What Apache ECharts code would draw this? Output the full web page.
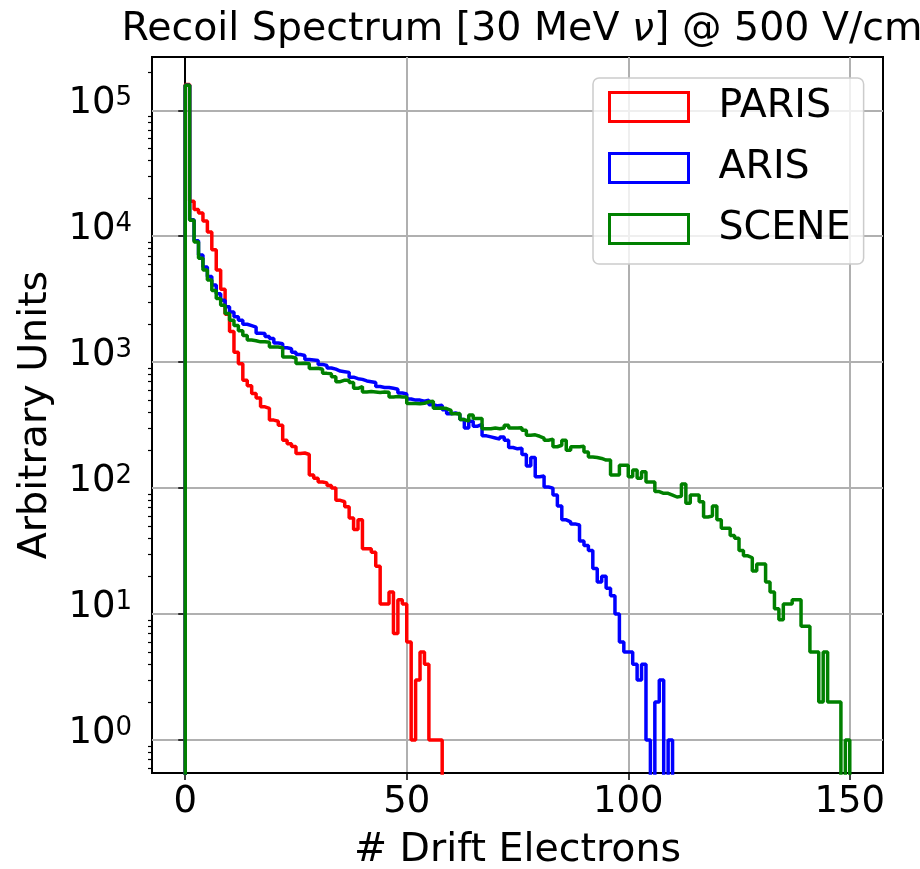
<!DOCTYPE html>
<html>
<head>
<meta charset="utf-8">
<script src="https://cdn.jsdelivr.net/npm/echarts@6/dist/echarts.min.js"></script>
<style>
  html, body { margin: 0; padding: 0; background: #fff; }
  #main { width: 920px; height: 869px; }
</style>
</head>
<body>
<div id="main"></div>
<script>
// histogram counts, one value per 1-electron bin (0..149)
var parisCounts = [
  160000, 19000, 16300, 15300, 13200, 10800, 7800, 5400, 3800, 2400,
  1750, 1200, 970, 720, 650, 565, 520, 442, 430, 347,
  340, 316, 240, 225, 214, 188, 190, 185, 127, 120,
  112, 110, 105, 100, 80, 78, 71, 58, 47, 56,
  33, 33, 31, 24, 12, 12, 15, 7, 13, 12,
  6, 1, 3, 5, 4, 1, 1, 1, 0, 0,
  0, 0, 0, 0, 0, 0, 0, 0, 0, 0,
  0, 0, 0, 0, 0, 0, 0, 0, 0, 0,
  0, 0, 0, 0, 0, 0, 0, 0, 0, 0,
  0, 0, 0, 0, 0, 0, 0, 0, 0, 0,
  0, 0, 0, 0, 0, 0, 0, 0, 0, 0,
  0, 0, 0, 0, 0, 0, 0, 0, 0, 0,
  0, 0, 0, 0, 0, 0, 0, 0, 0, 0,
  0, 0, 0, 0, 0, 0, 0, 0, 0, 0,
  0, 0, 0, 0, 0, 0, 0, 0, 0, 0
];
var arisCounts = [
  158000, 13500, 9200, 7100, 5700, 4800, 4100, 3500, 3100, 2750,
  2500, 2300, 2150, 2000, 1950, 1900, 1700, 1690, 1600, 1540,
  1420, 1400, 1300, 1280, 1200, 1150, 1130, 1050, 1040, 1030,
  960, 940, 900, 880, 850, 840, 830, 760, 740, 730,
  710, 700, 690, 640, 630, 630, 620, 610, 570, 560,
  510, 500, 500, 490, 500, 460, 450, 455, 420, 390,
  395, 385, 350, 300, 340, 310, 320, 260, 255, 250,
  245, 255, 240, 210, 205, 207, 185, 150, 175, 123,
  125, 102, 100, 88, 72, 56, 54, 52, 51, 38,
  35, 32, 23, 18, 20, 16, 14, 10, 6, 5,
  5, 4, 3, 4, 1, 0, 2, 3, 0, 1,
  0, 0, 0, 0, 0, 0, 0, 0, 0, 0,
  0, 0, 0, 0, 0, 0, 0, 0, 0, 0,
  0, 0, 0, 0, 0, 0, 0, 0, 0, 0,
  0, 0, 0, 0, 0, 0, 0, 0, 0, 0
];
var sceneCounts = [
  158000, 13400, 9000, 6700, 5400, 4500, 3700, 3200, 2830, 2430,
  2150, 1960, 1780, 1630, 1500, 1480, 1450, 1450, 1440, 1320,
  1320, 1300, 1100, 1100, 1080, 975, 980, 970, 890, 895,
  880, 815, 810, 765, 700, 720, 720, 690, 620, 640,
  580, 585, 580, 575, 580, 578, 530, 535, 530, 528,
  470, 470, 468, 472, 485, 490, 430, 432, 428, 415,
  390, 392, 350, 340, 380, 357, 357, 296, 296, 300,
  296, 300, 316, 300, 300, 302, 288, 263, 265, 258,
  250, 240, 245, 213, 219, 240, 200, 213, 213, 215,
  194, 177, 175, 172, 167, 167, 127, 127, 152, 152,
  123, 139, 120, 135, 112, 112, 94, 91, 91, 88,
  85, 86, 108, 76, 88, 88, 78, 59, 60, 72,
  56, 48, 48, 42, 40, 32, 29, 28, 22, 25,
  25, 18, 15, 11, 9, 12, 12, 13, 13, 8,
  8, 5, 5, 2, 5, 2, 2, 2, 0, 1
];
var seriesNames = ['PARIS', 'ARIS', 'SCENE'];
var seriesColors = ['#ff0000', '#0000ff', '#008000'];
var xTicks = [0, 50, 100, 150];
var yTicks = [1, 10, 100, 1000, 10000, 100000];

var FONT = 'DejaVu Sans';
var LABEL_SIZE = 39.5;
var TICK_SIZE = 37;
var FLOOR = 0.01; // empty bins fall below the log axis, like matplotlib
var Y_MIN = 0.547, Y_MAX = 265000;

// minor ticks 2..9 of every decade inside the axis range
var yMinorTicks = [];
for (var e = -1; e <= 5; e++) {
  for (var k = 2; k <= 9; k++) {
    var t = k * Math.pow(10, e);
    if (t > Y_MIN && t < Y_MAX) yMinorTicks.push(t);
  }
}

// turn bin counts into step outline points (left edges)
function stepData(counts) {
  var pts = [[0, FLOOR]];
  for (var i = 0; i < counts.length; i++) {
    pts.push([i, counts[i] > 0 ? counts[i] : FLOOR]);
  }
  pts.push([counts.length, FLOOR]);
  return pts;
}

var allCounts = [parisCounts, arisCounts, sceneCounts];

var chart = echarts.init(document.getElementById('main'));
chart.setOption({
  backgroundColor: '#ffffff',
  animation: false,
  title: {
    text: 'Recoil Spectrum [30 MeV {i|ν}] @ 500 V/cm',
    left: 517,
    top: 5,
    textAlign: 'center',
    textStyle: {
      fontFamily: FONT, fontSize: LABEL_SIZE, fontWeight: 'normal', color: '#000',
      rich: { i: { fontFamily: FONT, fontSize: LABEL_SIZE, fontStyle: 'italic', color: '#000' } }
    }
  },
  legend: {
    orient: 'vertical',
    left: 593,
    top: 78,
    padding: [9, 13, 15, 15],
    itemGap: 21,
    itemWidth: 79,
    itemHeight: 29,
    borderColor: '#cccccc',
    borderWidth: 1.5,
    borderRadius: 6,
    backgroundColor: 'rgba(255,255,255,0.8)',
    textStyle: { fontFamily: FONT, fontSize: LABEL_SIZE, color: '#000', padding: [0, 0, 0, 25] },
    data: seriesNames.map(function (n, i) {
      return { name: n, icon: 'rect',
        itemStyle: { color: 'rgba(255,255,255,0)', borderColor: seriesColors[i], borderWidth: 3 } };
    })
  },
  grid: {
    left: 152, right: 37, top: 57, bottom: 96,
    show: true, borderColor: '#000', borderWidth: 2,
    outerBoundsMode: 'none'
  },
  xAxis: {
    type: 'value',
    min: -7.5, max: 157.5,
    splitNumber: 3,
    name: '# Drift Electrons',
    nameLocation: 'middle',
    nameGap: 58,
    nameTextStyle: { fontFamily: FONT, fontSize: LABEL_SIZE, color: '#000' },
    axisLine: { lineStyle: { color: '#000', width: 2 } },
    axisTick: { length: 7, customValues: xTicks, lineStyle: { color: '#000', width: 1.5 } },
    axisLabel: {
      customValues: xTicks, margin: 11,
      fontFamily: FONT, fontSize: TICK_SIZE, color: '#000',
      formatter: function (v) { return String(v); }
    },
    splitLine: { show: true, lineStyle: { color: '#b0b0b0', width: 2 } }
  },
  yAxis: [{
    type: 'log',
    logBase: 10,
    min: Y_MIN, max: Y_MAX,
    name: 'Arbitrary Units',
    nameLocation: 'middle',
    nameGap: 96,
    nameTextStyle: { fontFamily: FONT, fontSize: LABEL_SIZE, color: '#000' },
    axisLine: { lineStyle: { color: '#000', width: 2 } },
    axisTick: { length: 7, customValues: yTicks, lineStyle: { color: '#000', width: 1.5 } },
    axisLabel: {
      customValues: yTicks, margin: 20,
      fontFamily: FONT, fontSize: TICK_SIZE, color: '#000',
      formatter: function (v) {
        var e = Math.log10(v);
        var r = Math.round(e);
        if (Math.abs(e - r) > 1e-6) return '';
        return '{b|10}{sup|' + r + '}';
      },
      rich: {
        b: { fontFamily: FONT, fontSize: TICK_SIZE, color: '#000', lineHeight: 50, verticalAlign: 'top' },
        sup: { fontFamily: FONT, fontSize: 26, color: '#000', lineHeight: 32, verticalAlign: 'top' }
      }
    },
    splitLine: { show: true, lineStyle: { color: '#b0b0b0', width: 2 } }
  }, {
    // minor tick marks only
    type: 'log',
    logBase: 10,
    position: 'left',
    min: Y_MIN, max: Y_MAX,
    axisLine: { show: false },
    axisTick: { show: true, length: 4, customValues: yMinorTicks, lineStyle: { color: '#000', width: 1.2 } },
    axisLabel: { show: false },
    splitLine: { show: false }
  }],
  series: seriesNames.map(function (n, i) {
    return {
      name: n,
      type: 'line',
      step: 'end',
      symbol: 'none',
      showSymbol: false,
      clip: true,
      color: seriesColors[i],
      lineStyle: { color: seriesColors[i], width: 3.5 },
      data: stepData(allCounts[i])
    };
  })
});
</script>
</body>
</html>
